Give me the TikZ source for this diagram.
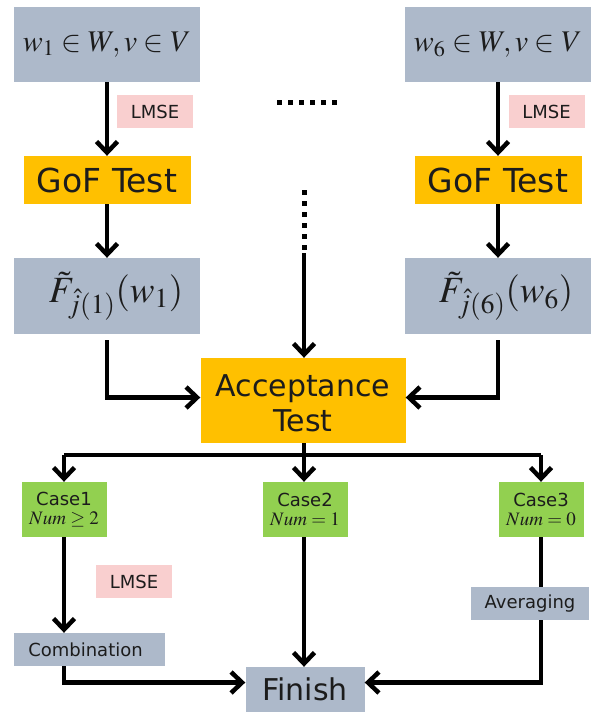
\documentclass[tikz,border=0pt]{standalone}
\usepackage{mathptmx}
\usepackage[no-math]{fontspec}
\setmainfont{DejaVu Sans}
\usetikzlibrary{arrows.meta}
\definecolor{boxgrey}{HTML}{ADB9CA}
\definecolor{boxgold}{HTML}{FFC000}
\definecolor{boxgreen}{HTML}{92D050}
\definecolor{boxpink}{HTML}{F9CFCF}
\definecolor{txt}{HTML}{1C1C1C}
\tikzset{
  bx/.style={inner sep=0pt, align=center, text=txt},
  greybox/.style={bx, fill=boxgrey},
  goldbox/.style={bx, fill=boxgold},
  greenbox/.style={bx, fill=boxgreen, minimum width=85pt, minimum height=55pt},
  pinkbox/.style={bx, fill=boxpink, minimum width=76pt, minimum height=33pt, font=\fontsize{18}{20}\selectfont},
  flow/.style={line width=4.5pt, -{Straight Barb[length=11pt,width=21pt,line width=4.5pt]}},
  plain/.style={line width=4.5pt},
  dots/.style={line width=5pt, dash pattern=on 5pt off 6pt},
}
\begin{document}
\begin{tikzpicture}[x=1pt,y=-1pt]
\useasboundingbox (0,0) rectangle (593,712);
% top inputs
\node[greybox, minimum width=186pt, minimum height=75pt, font=\fontsize{30}{32}\selectfont] (in1) at (107,44.5) {$w_1\in W, v\in V$};
\node[greybox, minimum width=186pt, minimum height=75pt, font=\fontsize{30}{32}\selectfont] (in6) at (498,44.5) {$w_6\in W, v\in V$};
\node[pinkbox] (lm1) at (155,111.5) {LMSE};
\node[pinkbox] (lm6) at (546.5,111.5) {LMSE};
\node[goldbox, minimum width=167pt, minimum height=48pt, font=\fontsize{33}{36}\selectfont] (gof1) at (107,180) {GoF Test};
\node[goldbox, minimum width=167pt, minimum height=48pt, font=\fontsize{33}{36}\selectfont] (gof6) at (498,180) {GoF Test};
\node[greybox, minimum width=186pt, minimum height=76pt, font=\fontsize{37}{40}\selectfont] (f1) at (107,296) {\hspace*{18pt}$\tilde{F}_{\hat{j}(1)}(w_1)$};
\node[greybox, minimum width=186pt, minimum height=76pt, font=\fontsize{37}{40}\selectfont] (f6) at (498,296) {\hspace*{16pt}$\tilde{F}_{\hat{j}(6)}(w_6)$};
\node[goldbox, minimum width=205pt, minimum height=85pt, font=\fontsize{30}{35}\selectfont] (acc) at (303,400.5) {\raisebox{0pt}[28pt][0pt]{Acceptance}\\Test};
% cases
\node[greenbox] (c1) at (64,509.5) {\fontsize{18}{20}\selectfont Case1\\[5pt]\fontsize{19}{20}\selectfont $Num\geq 2$};
\node[greenbox] (c2) at (305,509.5) {\fontsize{18}{20}\selectfont Case2\\[5pt]\fontsize{19}{20}\selectfont $Num=1$};
\node[greenbox] (c3) at (541,509.5) {\fontsize{18}{20}\selectfont Case3\\[5pt]\fontsize{19}{20}\selectfont $Num=0$};
\node[pinkbox] (lm3) at (134,581.5) {LMSE};
\node[greybox, minimum width=151pt, minimum height=33pt, font=\fontsize{18}{20}\selectfont] (comb) at (89.5,649.5) {Combination\hspace*{8pt}};
\node[greybox, minimum width=118pt, minimum height=33pt, font=\fontsize{18}{20}\selectfont] (avg) at (530,603.5) {Averaging};
\node[greybox, minimum width=119pt, minimum height=45pt, font=\fontsize{30}{34}\selectfont] (fin) at (305,689.5) {Finish};
% coordinates
\coordinate (hd1) at (277,102);
\coordinate (hd2) at (340,102);
\coordinate (vd1) at (304,190);
\coordinate (vd2) at (304,253);
\coordinate (br) at (304,455);
% connectors
\draw[flow] (in1) -- (gof1);
\draw[flow] (in6) -- (gof6);
\draw[flow] (gof1) -- (f1);
\draw[flow] (gof6) -- (f6);
\draw[dots] (hd1) -- (hd2);
\draw[dots] (vd1) -- (vd2);
\draw[flow] (vd2) -- (acc.north -| vd2);
\draw[flow, shorten <=6pt] (f1.south) |- ([yshift=3pt]acc.west);
\draw[flow, shorten <=6pt] (f6.south) |- ([yshift=3pt]acc.east);
\draw[plain] (acc.south -| br) -- (br);
\draw[line width=4pt] (c1.north |- br) -- (c3.north |- br);
\draw[flow] (c1.north |- br) -- (c1.north);
\draw[flow] (br) -- (c2.north -| br);
\draw[flow] (c3.north |- br) -- (c3.north);
\draw[flow] (c1.south) -- (comb.north -| c1.south);
\draw[flow] (c2.south -| br) -- (fin.north -| br);
\draw[plain] (c3.south) -- (avg.north -| c3.south);
\draw[flow] (comb.south -| c1.south) |- ([yshift=7pt]fin.west);
\draw[flow] (avg.south -| c3.south) |- ([yshift=7pt]fin.east);
\end{tikzpicture}
\end{document}
